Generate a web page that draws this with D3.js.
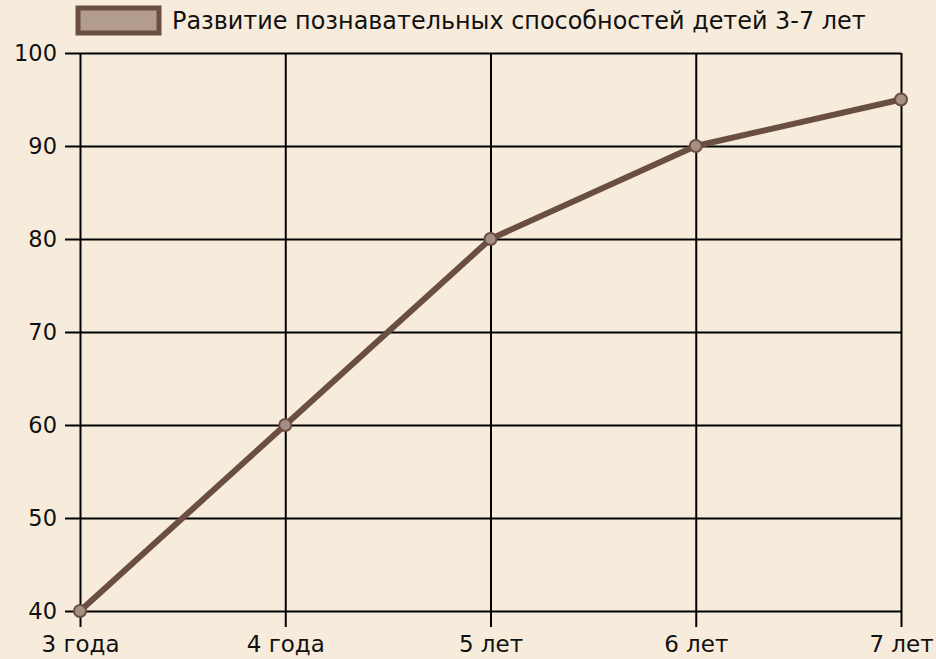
<!DOCTYPE html>
<html>
<head>
<meta charset="utf-8">
<script src="https://cdn.jsdelivr.net/npm/d3@7"></script>
<style>
body{margin:0;background:#f7ecdc;}
svg{display:block;font-family:"DejaVu Sans",sans-serif;}
</style>
</head>
<body>
<svg id="chart" width="936" height="659"></svg>
<script>
(function(){

var categories = ["3 года", "4 года", "5 лет", "6 лет", "7 лет"];
var values = [40, 60, 80, 90, 95];
var yTicks = [40, 50, 60, 70, 80, 90, 100];
var seriesName = "Развитие познавательных способностей детей 3-7 лет";

var svg = d3.select("#chart"),
left = 80,
right = 901,
top = 53,
bottom = 611,
lineColor = "#6b4e42";

svg.append("rect").attr("width", 936).attr("height", 659).attr("fill", "#f7ecdc");

var x = d3.scalePoint().domain(categories).range([left, right]);
var y = d3.scaleLinear().domain([40, 100]).range([bottom, top]);

//GRID + AXES
var yAxis = svg.append("g")
	.attr("transform", `translate(${left},0)`)
	.call(d3.axisLeft(y).tickValues(yTicks).tickSize(-(right - left)).tickSizeOuter(0));
yAxis.select(".domain").remove();
yAxis.selectAll(".tick line").attr("stroke", "#000").attr("stroke-width", 2).attr("x1", -15).attr("x2", right - left);
yAxis.selectAll(".tick text").attr("font-size", 22.5).attr("fill", "#111").attr("font-family", "DejaVu Sans").attr("x", -23).attr("dy", "0.35em");

var xAxis = svg.append("g")
	.attr("transform", `translate(0,${bottom})`)
	.call(d3.axisBottom(x).tickSize(0).tickSizeOuter(0));
xAxis.select(".domain").remove();
xAxis.selectAll(".tick line").attr("stroke", "#000").attr("stroke-width", 2).attr("y1", top - bottom).attr("y2", 16);
xAxis.selectAll(".tick text").attr("font-size", 23).attr("fill", "#111").attr("font-family", "DejaVu Sans").attr("y", 25);

//LINE
var line = d3.line().x((d, i) => x(categories[i])).y(d => y(d));
svg.append("path")
	.datum(values)
	.attr("d", line)
	.attr("fill", "none")
	.attr("stroke", lineColor)
	.attr("stroke-width", 6)
	.attr("stroke-linejoin", "round");

svg.selectAll("circle.pt")
	.data(values)
	.enter().append("circle")
	.attr("class", "pt")
	.attr("cx", (d, i) => x(categories[i]))
	.attr("cy", d => y(d))
	.attr("r", 6)
	.attr("fill", "#a58f83")
	.attr("stroke", lineColor)
	.attr("stroke-width", 2);

//LEGEND
svg.append("rect")
	.attr("x", 78).attr("y", 8).attr("width", 81).attr("height", 25)
	.attr("fill", "#b19c8e")
	.attr("stroke", lineColor)
	.attr("stroke-width", 5);
svg.append("text")
	.attr("x", 172).attr("y", 29)
	.attr("font-size", 23.9)
	.attr("fill", "#111")
	.text(seriesName);

})()
</script>
</body>
</html>
